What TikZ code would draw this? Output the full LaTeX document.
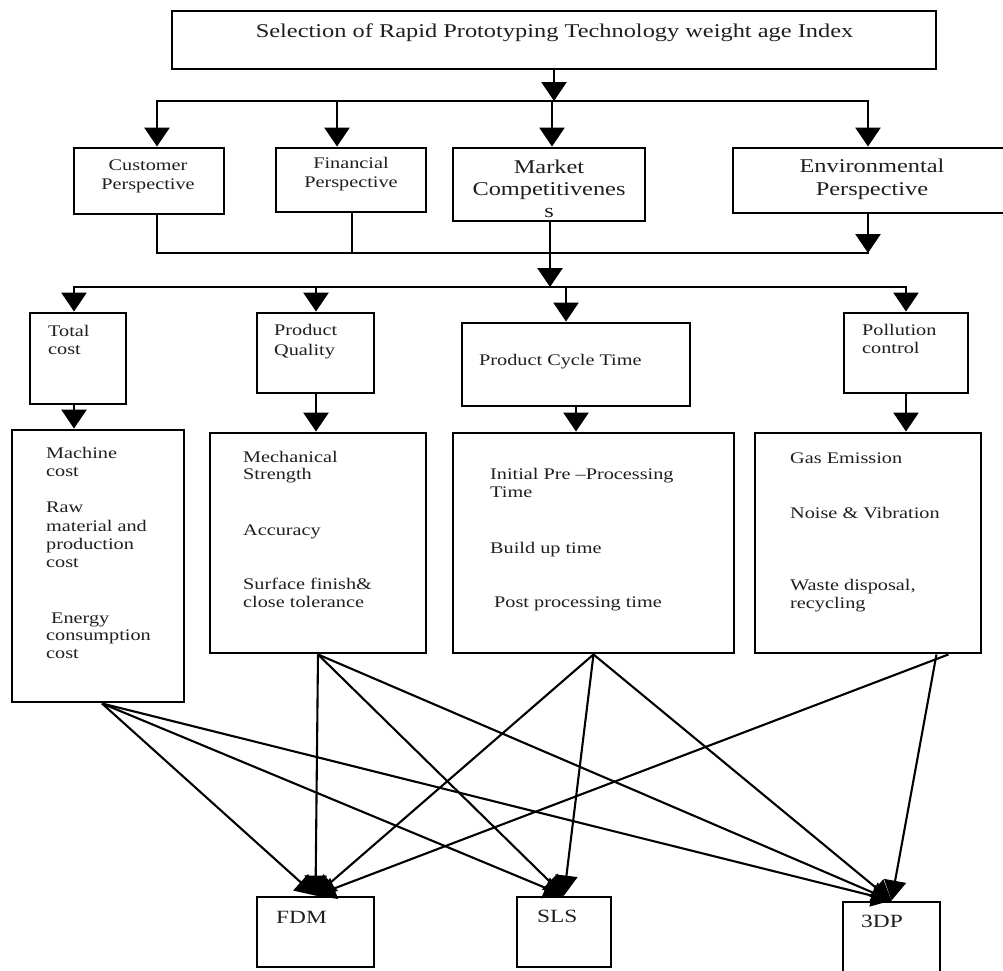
\documentclass[tikz,border=0pt]{standalone}
\usepackage{fontspec}
\setmainfont{Liberation Serif}[FakeStretch=1.25]
\usetikzlibrary{arrows.meta,calc}
\begin{document}
\begin{tikzpicture}[x=1pt,y=-1pt,
  box/.style={draw, line width=2.9pt, inner sep=0pt},
  arr/.style={line width=2.7pt, -{Triangle[length=19pt,width=25pt]}},
  bus/.style={line width=2.2pt, line cap=rect},
  link/.style={line width=2.1pt, -{Triangle[length=20pt,width=22pt]}},
  txt/.style={inner sep=0pt, anchor=base west, text=black!88, font=\fontsize{16.2}{18}\selectfont},
  ctxt/.style={inner sep=0pt, anchor=base, text=black!88, font=\fontsize{16.2}{18}\selectfont},
  big/.style={inner sep=0pt, anchor=base, text=black!88, font=\fontsize{19.5}{22}\selectfont},
  lab/.style={inner sep=0pt, anchor=base west, text=black!88, font=\fontsize{18.7}{20}\selectfont},
]
\clip (0,0) rectangle (1003,970);
\fill[white] (0,0) rectangle (1003,970);

% ---------- boxes ----------
\node[box, minimum width=764pt, minimum height=58pt] (title) at (554,40) {};
\node[box, minimum width=150pt, minimum height=66pt] (cust) at (149,181) {};
\node[box, minimum width=150pt, minimum height=64pt] (fin) at (351,180) {};
\node[box, minimum width=192pt, minimum height=73pt] (mkt) at (549,184.5) {};
\node[box, minimum width=277pt, minimum height=65pt] (env) at (871.5,180.5) {};

\node[box, minimum width=96pt, minimum height=91pt] (tc) at (78,358.5) {};
\node[box, minimum width=117pt, minimum height=80pt] (pq) at (315.5,353) {};
\node[box, minimum width=228pt, minimum height=83pt] (pct) at (576,364.5) {};
\node[box, minimum width=124pt, minimum height=80pt] (pc) at (906,353) {};

\node[box, minimum width=172pt, minimum height=272pt] (d1) at (98,566) {};
\node[box, minimum width=216pt, minimum height=220pt] (d2) at (318,543) {};
\node[box, minimum width=281pt, minimum height=220pt] (d3) at (593.5,543) {};
\node[box, minimum width=226pt, minimum height=220pt] (d4) at (868,543) {};

\node[box, minimum width=117pt, minimum height=70pt] (FDM) at (315.5,932) {};
\node[box, minimum width=94pt, minimum height=70pt] (SLS) at (564,932) {};
\node[box, minimum width=97pt, minimum height=78pt] (TDP) at (891.5,941) {};

% ---------- texts ----------
\node[big] (ttitle) at (554.5,37) {Selection of Rapid Prototyping Technology weight age Index};
\node[ctxt] (tcust1) at (148,170) {Customer};
\node[ctxt] (tcust2) at (148,189) {Perspective};
\node[ctxt] (tfin1) at (351,168) {Financial};
\node[ctxt] (tfin2) at (351,187) {Perspective};
\node[big] (tmkt1) at (549,173) {Market};
\node[big] (tmkt2) at (549,195) {Competitivenes};
\node[big] (tmkt3) at (549,217) {s};
\node[big] (tenv1) at (872,172) {Environmental};
\node[big] (tenv2) at (872,195) {Perspective};

\node[txt] (ttc1) at (48,336) {Total};
\node[txt] (ttc2) at (48,354) {cost};
\node[txt] (tpq1) at (274,335) {Product};
\node[txt] (tpq2) at (274,355) {Quality};
\node[txt] (tpct) at (479,365) {Product Cycle Time};
\node[txt] (tpc1) at (862,335) {Pollution};
\node[txt] (tpc2) at (862,353) {control};

\node[txt] (td1a) at (46,458) {Machine};
\node[txt] (td1b) at (46,476) {cost};
\node[txt] (td1c) at (46,512) {Raw};
\node[txt] (td1d) at (46,531) {material and};
\node[txt] (td1e) at (46,549) {production};
\node[txt] (td1f) at (46,567) {cost};
\node[txt] (td1g) at (51,623) {Energy};
\node[txt] (td1h) at (46,640) {consumption};
\node[txt] (td1i) at (46,658) {cost};

\node[txt] (td2a) at (243,462) {Mechanical};
\node[txt] (td2b) at (243,479) {Strength};
\node[txt] (td2c) at (243,535) {Accuracy};
\node[txt] (td2d) at (243,589) {Surface finish\&};
\node[txt] (td2e) at (243,607) {close tolerance};

\node[txt] (td3a) at (490,479) {Initial Pre –Processing};
\node[txt] (td3b) at (490,497) {Time};
\node[txt] (td3c) at (490,553) {Build up time};
\node[txt] (td3d) at (494,607) {Post processing time};

\node[txt] (td4a) at (790,463) {Gas Emission};
\node[txt] (td4b) at (790,518) {Noise \& Vibration};
\node[txt] (td4c) at (790,590) {Waste disposal,};
\node[txt] (td4d) at (790,608) {recycling};

\node[lab] (tFDM) at (276,923) {FDM};
\node[lab] (tSLS) at (537,922) {SLS};
\node[lab] (tTDP) at (861,927) {3DP};

% ---------- top connectors ----------
\coordinate (t0) at (554,101);
\coordinate (a1) at (157,101);
\coordinate (a2) at (337,101);
\coordinate (a3) at (552,101);
\coordinate (a4) at (868,101);
\draw[arr] (title.south) -- (t0);
\draw[bus] (a1) -- (a4);
\draw[arr] (a1) -- (a1 |- cust.north);
\draw[arr] (a2) -- (a2 |- fin.north);
\draw[arr] (a3) -- (a3 |- mkt.north);
\draw[arr] (a4) -- (a4 |- env.north);

\coordinate (b1) at (157,253);
\coordinate (b2) at (352,253);
\coordinate (b3) at (550,253);
\coordinate (b4) at (868,253);
\coordinate (m) at (550,287);
\draw[bus] (b1 |- cust.south) -- (b1) -- (b4);
\draw[bus] (b2 |- fin.south) -- (b2);
\draw[arr] (b4 |- env.south) -- (b4);
\draw[arr] (b3 |- mkt.south) -- (m);

\coordinate (c1) at (74,287);
\coordinate (c2) at (316,287);
\coordinate (c3) at (566,287);
\coordinate (c4) at (906,287);
\draw[bus] (c1) -- (c4);
\draw[arr] (c1) -- (c1 |- tc.north);
\draw[arr] (c2) -- (c2 |- pq.north);
\draw[arr] (c3) -- (c3 |- pct.north);
\draw[arr] (c4) -- (c4 |- pc.north);

\draw[arr] (c1 |- tc.south) -- (c1 |- d1.north);
\draw[arr] (c2 |- pq.south) -- (c2 |- d2.north);
\draw[arr] (pct.south) -- (pct.south |- d3.north);
\draw[arr] (pc.south) -- (pc.south |- d4.north);

% ---------- links to technologies ----------
\draw[link] ($(d1.south)+(4,0)$) -- (FDM.north);
\draw[link] ($(d1.south)+(4,0)$) -- (SLS.north);
\draw[link] ($(d1.south)+(4,0)$) -- (TDP.north);
\draw[link] (d2.south) -- (FDM.north);
\draw[link] (d2.south) -- (SLS.north);
\draw[link] (d2.south) -- (TDP.north);
\draw[link] (d3.south) -- (FDM.north);
\draw[link] (d3.south) -- (SLS.north);
\draw[link] (d3.south) -- (TDP.north);
\draw[link] ($(d4.south east)+(-34,0)$) -- (FDM.north);
\draw[link] ($(d4.south east)+(-46,0)$) -- (TDP.north);
\end{tikzpicture}
\end{document}
